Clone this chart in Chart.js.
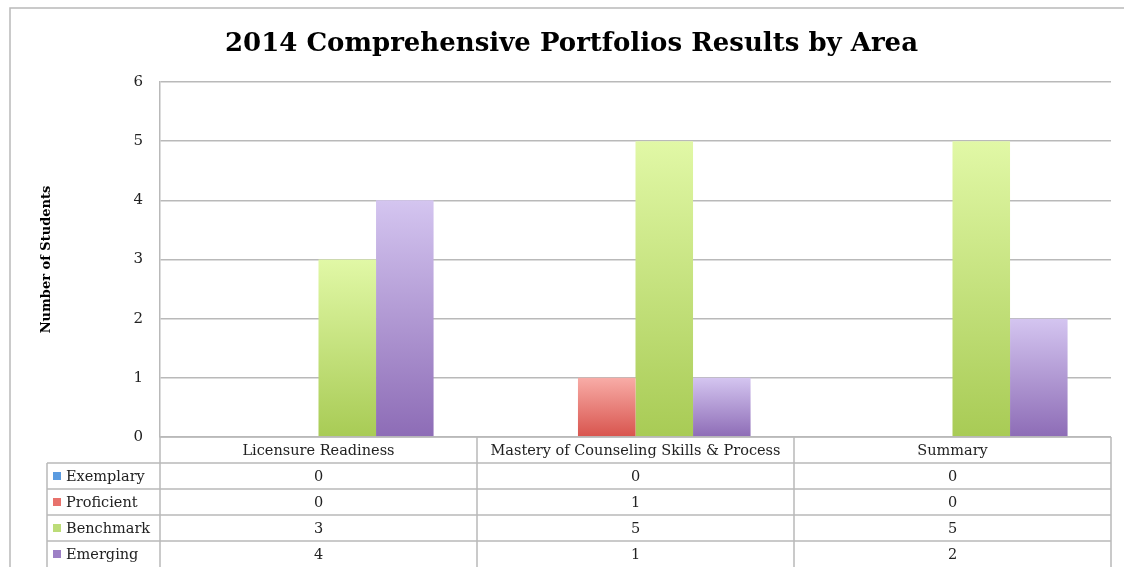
<!DOCTYPE html>
<html>
<head>
<meta charset="utf-8">
<script src="https://cdn.jsdelivr.net/npm/chart.js@4.4.1/dist/chart.umd.min.js"></script>
<style>
  html, body { margin: 0; padding: 0; background: #fff; }
  #wrap { width: 1124px; height: 567px; }
</style>
</head>
<body>
<div id="wrap"><canvas id="portfolioChart" width="1124" height="567"></canvas></div>
<script>
const categories = ["Licensure Readiness", "Mastery of Counseling Skills & Process", "Summary"];
const seriesNames = ["Exemplary", "Proficient", "Benchmark", "Emerging"];
const exemplary = [0, 0, 0];
const proficient = [0, 1, 0];
const benchmark = [3, 5, 5];
const emerging = [4, 1, 2];
const yTicks = [0, 1, 2, 3, 4, 5, 6];

const seriesValues = [exemplary, proficient, benchmark, emerging];
// top / bottom colours of each bar gradient, plus the legend swatch
const palette = [
  { top: "#a9c9f1", bottom: "#4a86d0", swatch: "#5b9be0" },
  { top: "#f8aca7", bottom: "#d8544d", swatch: "#e8726c" },
  { top: "#e1f8a6", bottom: "#a8cb55", swatch: "#bcdc78" },
  { top: "#d4c5f0", bottom: "#8d6cb6", swatch: "#9d80c6" },
];

const serif = "'DejaVu Serif', 'Liberation Serif', serif";
const lineColor = "#b9b9b9";

function barGradient(top, bottom) {
  return (context) => {
    const chart = context.chart;
    const { ctx, chartArea, scales } = chart;
    if (!chartArea || context.type !== "data" || !scales.y) return bottom;
    const y0 = scales.y.getPixelForValue(0);
    const y1 = scales.y.getPixelForValue(context.raw || 0);
    if (Math.abs(y0 - y1) < 1) return bottom;
    const g = ctx.createLinearGradient(0, y1, 0, y0);
    g.addColorStop(0, top);
    g.addColorStop(1, bottom);
    return g;
  };
}

const dataTable = {
  id: "dataTable",
  beforeDraw(chart) {
    const { ctx, width, height } = chart;
    ctx.save();
    ctx.strokeStyle = lineColor;
    ctx.lineWidth = 1.5;
    ctx.beginPath();
    ctx.moveTo(10, height);
    ctx.lineTo(10, 8);
    ctx.lineTo(width, 8);
    ctx.stroke();
    ctx.restore();
  },
  afterDraw(chart) {
    const { ctx, chartArea, height, scales } = chart;
    const x = scales.x;
    const n = categories.length;
    const colW = (chartArea.right - chartArea.left) / n;
    const rowH = 26;
    const top = chartArea.bottom;
    const labelLeft = 47;

    ctx.save();
    ctx.strokeStyle = lineColor;
    ctx.lineWidth = 1.5;
    ctx.beginPath();
    // horizontal row lines
    ctx.moveTo(chartArea.left, top);
    ctx.lineTo(chartArea.right, top);
    for (let r = 1; r <= seriesNames.length; r++) {
      const y = top + rowH * r;
      ctx.moveTo(labelLeft, y);
      ctx.lineTo(chartArea.right, y);
    }
    // vertical column lines
    for (let c = 0; c <= n; c++) {
      const xx = chartArea.left + colW * c;
      ctx.moveTo(xx, top);
      ctx.lineTo(xx, height);
    }
    ctx.moveTo(labelLeft, top + rowH);
    ctx.lineTo(labelLeft, height);
    ctx.stroke();

    ctx.font = "14.5px " + serif;
    ctx.fillStyle = "#222";
    ctx.textBaseline = "middle";
    ctx.textAlign = "center";
    categories.forEach((cat, i) => {
      ctx.fillText(cat, x.getPixelForValue(i), top + rowH / 2 + 1);
    });

    seriesNames.forEach((name, s) => {
      const cy = top + rowH * (s + 1) + rowH / 2 + 1;
      ctx.fillStyle = palette[s].swatch;
      ctx.fillRect(labelLeft + 6, cy - 5, 8, 8);
      ctx.fillStyle = "#222";
      ctx.textAlign = "left";
      ctx.fillText(name, labelLeft + 19, cy);
      ctx.textAlign = "center";
      seriesValues[s].forEach((v, i) => {
        ctx.fillText(String(v), x.getPixelForValue(i), cy);
      });
    });
    ctx.restore();
  },
};

const ctx = document.getElementById("portfolioChart").getContext("2d");

new Chart(ctx, {
  type: "bar",
  data: {
    labels: categories,
    datasets: seriesNames.map((name, s) => ({
      label: name,
      data: seriesValues[s],
      backgroundColor: barGradient(palette[s].top, palette[s].bottom),
      borderWidth: 0,
      categoryPercentage: 0.726,
      barPercentage: 1.0,
    })),
  },
  options: {
    responsive: false,
    animation: false,
    layout: { padding: { left: 32, right: 13, top: 0, bottom: 0 } },
    plugins: {
      legend: { display: false },
      tooltip: { enabled: false },
      title: {
        display: true,
        text: "2014 Comprehensive Portfolios Results by Area",
        color: "#000",
        font: { family: serif, size: 26, weight: "bold" },
        padding: { top: 29, bottom: 21.8 },
      },
    },
    scales: {
      x: {
        grid: { display: false },
        border: { display: false },
        ticks: { display: false },
        afterFit: (scale) => { scale.height = 130; },
      },
      y: {
        min: 0,
        max: 6,
        afterFit: (scale) => { scale.width = 128; },
        afterBuildTicks: (scale) => {
          scale.ticks = yTicks.map((v) => ({ value: v }));
        },
        grid: { color: lineColor, lineWidth: 1.5, drawTicks: false },
        border: { color: lineColor, width: 1.5 },
        ticks: {
          color: "#222",
          padding: 17,
          font: { family: serif, size: 15 },
        },
        title: {
          display: true,
          text: "Number of Students",
          color: "#000",
          font: { family: serif, size: 13, weight: "bold" },
          padding: { top: 7, bottom: 0 },
        },
      },
    },
  },
  plugins: [dataTable],
});
</script>
</body>
</html>
